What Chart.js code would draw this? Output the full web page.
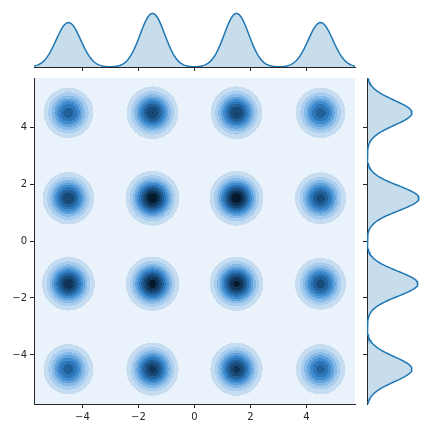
<!DOCTYPE html>
<html><head><meta charset="utf-8">
<script src="https://cdn.jsdelivr.net/npm/chart.js@4"></script>
<style>
html,body{margin:0;padding:0;background:#fff;width:432px;height:432px;overflow:hidden}
canvas{position:absolute}
</style></head>
<body>
<canvas id="main" width="432" height="432" style="left:0;top:0"></canvas>
<canvas id="top" width="432" height="78" style="left:0;top:0"></canvas>
<canvas id="right" width="77" height="432" style="left:355px;top:0"></canvas>
<script>
// ---- data ----
const xTickValues = [-4, -2, 0, 2, 4];
const yTickValues = [-4, -2, 0, 2, 4];
const xRange = [-5.73, 5.73];
const yRange = [-5.72, 5.72];
const clusterX = [-4.5, -1.5, 1.5, 4.5];
const clusterY = [4.5, 1.5, -1.5, -4.5];
// relative peak density of each blob (rows = clusterY, cols = clusterX)
const clusterWeights = [
  [0.70, 0.83, 0.83, 0.70],
  [0.82, 1.00, 1.00, 0.78],
  [0.90, 0.97, 0.95, 0.78],
  [0.70, 0.86, 0.86, 0.68]
];
const topPeaks = [0.83, 1.00, 1.00, 0.83];     // marginal over x, at clusterX
const rightPeaks = [0.865, 1.00, 0.98, 0.865]; // marginal over y, at clusterY
const bandwidth = 0.44;
const levelStep = 0.092;
const levelColors = ['#eaf2fb','#c6dcf1','#a9cdee','#87bae7','#62a3dc','#418cce',
                     '#2d76b8','#215f98','#184a78','#0f3457','#061a2e'];
const lineColor = '#1f77b4';
const fillColor = 'rgba(31,119,180,0.25)';
const ink = '#262626';

// ---- helpers ----
const g = (d) => Math.exp(-d * d / (2 * bandwidth * bandwidth));
function density2d(x, y) {
  let s = 0;
  for (let i = 0; i < clusterY.length; i++)
    for (let j = 0; j < clusterX.length; j++) {
      const dx = x - clusterX[j], dy = y - clusterY[i];
      s += clusterWeights[i][j] * Math.exp(-(dx*dx + dy*dy) / (2*bandwidth*bandwidth));
    }
  return s;
}
function marginal(v, centers, peaks) {
  let s = 0;
  for (let k = 0; k < centers.length; k++) s += peaks[k] * g(v - centers[k]);
  return s;
}
function hexToRgb(h){return [parseInt(h.slice(1,3),16),parseInt(h.slice(3,5),16),parseInt(h.slice(5,7),16)];}
const levelRgb = levelColors.map(hexToRgb);
const fmt = (v) => (v < 0 ? '\u2212' + Math.abs(v) : String(v));
const font = {family: 'DejaVu Sans', size: 10};
const setTicks = (vals) => (s) => { s.ticks = vals.map(v => ({value: v})); };

Chart.defaults.animation = false;
Chart.defaults.responsive = false;
Chart.defaults.plugins.legend.display = false;
Chart.defaults.plugins.tooltip.enabled = false;

// ---- joint KDE plot ----
const kdePlugin = {
  id: 'kde',
  beforeDraw(chart) {
    const {ctx, chartArea: a, scales: {x, y}} = chart;
    const L = Math.round(a.left), T = Math.round(a.top);
    const w = Math.round(a.right) - L, h = Math.round(a.bottom) - T;
    const img = ctx.createImageData(w, h);
    for (let py = 0; py < h; py++) {
      const yv = y.getValueForPixel(T + py + 0.5);
      for (let px = 0; px < w; px++) {
        const xv = x.getValueForPixel(L + px + 0.5);
        const lvl = Math.min(levelColors.length - 1, Math.floor(density2d(xv, yv) / levelStep));
        const c = levelRgb[lvl], o = (py * w + px) * 4;
        img.data[o] = c[0]; img.data[o+1] = c[1]; img.data[o+2] = c[2]; img.data[o+3] = 255;
      }
    }
    ctx.putImageData(img, L, T);
  }
};
const centers = [];
clusterY.forEach(cy => clusterX.forEach(cx => centers.push({x: cx, y: cy})));

new Chart(document.getElementById('main'), {
  type: 'scatter',
  data: {datasets: [{data: centers, pointRadius: 0}]},
  options: {
    layout: {padding: {top: 78, right: 77}},
    scales: {
      x: {type: 'linear', min: xRange[0], max: xRange[1],
          afterBuildTicks: setTicks(xTickValues), afterFit: s => { s.height = 28; },
          grid: {drawOnChartArea: false, drawTicks: true, tickLength: 4, color: ink},
          border: {display: true, color: ink, width: 1},
          ticks: {font, color: ink, padding: 3, maxRotation: 0, callback: fmt}},
      y: {type: 'linear', min: yRange[0], max: yRange[1],
          afterBuildTicks: setTicks(yTickValues), afterFit: s => { s.width = 34; },
          grid: {drawOnChartArea: false, drawTicks: true, tickLength: 4, color: ink},
          border: {display: true, color: ink, width: 1},
          ticks: {font, color: ink, padding: 3, callback: fmt}}
    }
  },
  plugins: [kdePlugin]
});

// ---- top marginal ----
const nSamples = 240;
const topCurve = [];
for (let i = 0; i <= nSamples; i++) {
  const xv = xRange[0] + (xRange[1] - xRange[0]) * i / nSamples;
  topCurve.push({x: xv, y: marginal(xv, clusterX, topPeaks)});
}
new Chart(document.getElementById('top'), {
  type: 'scatter',
  data: {datasets: [{data: topCurve, showLine: true, fill: 'origin', pointRadius: 0,
    borderColor: lineColor, borderWidth: 1.5, backgroundColor: fillColor, tension: 0}]},
  options: {
    layout: {padding: {left: 34, right: 77, top: 8}},
    scales: {
      x: {type: 'linear', min: xRange[0], max: xRange[1],
          afterBuildTicks: setTicks(xTickValues), afterFit: s => { s.height = 11; },
          grid: {drawOnChartArea: false, drawTicks: true, tickLength: 4, color: ink},
          border: {display: true, color: ink, width: 1},
          ticks: {display: false}},
      y: {display: false, min: 0, max: 1.1}
    }
  }
});

// ---- right marginal ----
const rightCurve = [];
for (let i = 0; i <= nSamples; i++) {
  const yv = yRange[1] - (yRange[1] - yRange[0]) * i / nSamples;
  rightCurve.push({x: marginal(yv, clusterY, rightPeaks), y: yv});
}
new Chart(document.getElementById('right'), {
  type: 'scatter',
  data: {datasets: [{data: rightCurve, showLine: true, fill: 'shape', pointRadius: 0,
    borderColor: lineColor, borderWidth: 1.5, backgroundColor: fillColor, tension: 0}]},
  options: {
    layout: {padding: {top: 78, bottom: 28, right: 5}},
    scales: {
      x: {display: false, min: 0, max: 1.154},
      y: {type: 'linear', min: yRange[0], max: yRange[1],
          afterBuildTicks: setTicks(yTickValues), afterFit: s => { s.width = 12; },
          grid: {drawOnChartArea: false, drawTicks: true, tickLength: 4, color: ink},
          border: {display: true, color: ink, width: 1},
          ticks: {display: false}}
    }
  }
});
</script>
</body></html>
